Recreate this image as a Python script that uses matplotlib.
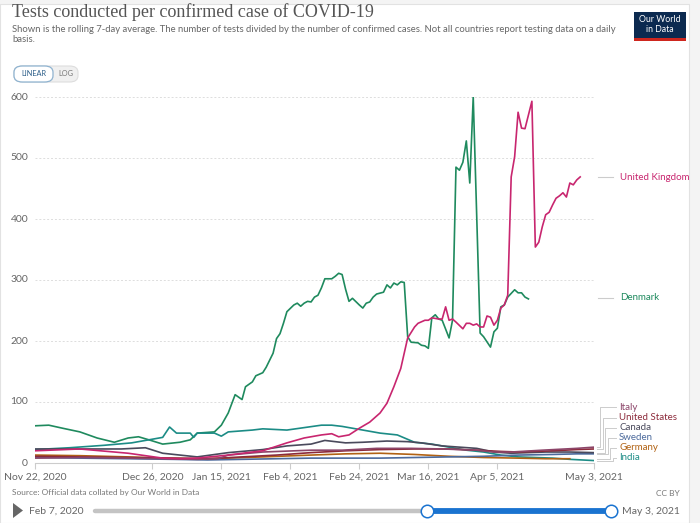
import numpy as np
import matplotlib
matplotlib.use('Agg')
import matplotlib.pyplot as plt
from matplotlib.patches import FancyBboxPatch, Rectangle, Polygon
from matplotlib.lines import Line2D

# ---------------- data ----------------
START = np.datetime64('2020-11-22')

tick_days = [0, 34, 54, 74, 94, 114, 134, 162]
tick_labels = ['Nov 22, 2020', 'Dec 26, 2020', 'Jan 15, 2021', 'Feb 4, 2021',
               'Feb 24, 2021', 'Mar 16, 2021', 'Apr 5, 2021', 'May 3, 2021']
y_ticks = [0, 100, 200, 300, 400, 500, 600]

denmark_days = [0, 4, 8, 13, 18, 23, 27, 30, 33, 37, 42, 45, 47, 52, 54, 56, 58, 60, 61,
                63, 64, 66, 67, 69, 70, 71, 72, 73, 75, 76, 77, 78, 79, 80, 81, 82, 83, 84,
                86, 87, 88, 89, 90, 91, 92, 94, 95, 96, 97, 98, 99, 101, 102, 103, 104, 105,
                106, 107, 108, 109, 111, 112, 113, 114, 115, 116, 117, 118, 120, 121, 122,
                123, 124, 125, 126, 127, 129, 130, 132, 133, 134, 135, 136, 137, 139, 140,
                141, 142, 143]
denmark_vals = [61, 62, 57, 51, 41, 34, 41, 43, 38, 31, 34, 38, 49, 51, 62, 82, 112, 104, 125,
                133, 143, 148, 157, 180, 204, 212, 229, 248, 259, 262, 257, 262, 265, 264, 272,
                275, 287, 302, 302, 306, 311, 309, 285, 265, 270, 259, 254, 262, 264, 272, 277,
                280, 292, 287, 295, 292, 297, 296, 207, 198, 197, 193, 192, 188, 238, 243, 236,
                234, 205, 234, 485, 480, 493, 528, 459, 600, 213, 207, 190, 215, 221, 256, 259,
                272, 284, 279, 279, 272, 269]

uk_days = [0, 13, 27, 37, 42, 47, 56, 63, 66, 73, 78, 83, 86, 88, 91, 94, 97, 100, 102, 104,
           105, 106, 107, 108, 110, 111, 113, 114, 115, 117, 118, 119, 120, 121, 122, 124, 125,
           126, 127, 128, 129, 130, 131, 132, 133, 134, 135, 136, 137, 138, 139, 140, 141, 142,
           144, 145, 146, 147, 148, 149, 150, 151, 152, 153, 154, 155, 156, 157, 158]
uk_vals = [20, 23, 16, 8, 7, 8, 13, 18, 20, 33, 41, 46, 48, 43, 46, 57, 67, 82, 98, 125,
           140, 155, 180, 205, 223, 229, 234, 234, 238, 236, 236, 256, 234, 236, 231, 220, 229,
           229, 226, 228, 223, 223, 241, 239, 226, 234, 254, 259, 275, 469, 502, 575, 549, 548,
           593, 354, 362, 387, 407, 411, 423, 434, 438, 443, 436, 459, 456, 464, 469]

italy_days = [0, 13, 27, 37, 47, 53, 56, 66, 80, 89, 99, 109, 118, 128, 133, 138, 147, 157, 162]
italy_vals = [8, 9, 8, 7, 6, 7, 13, 18, 21, 21, 24, 24, 23, 21, 18, 18, 21, 24, 26]

us_days = [0, 13, 27, 40, 50, 60, 70, 80, 90, 100, 110, 120, 128, 135, 140, 150, 157, 162]
us_vals = [11, 10, 9, 8, 7, 10, 13, 17, 20, 22, 23, 23, 21, 19, 18, 20, 22, 23]

canada_days = [0, 25, 32, 37, 47, 56, 66, 73, 80, 82, 84, 90, 95, 102, 108, 112, 118, 123,
               128, 133, 138, 143, 148, 155, 162]
canada_vals = [23, 23, 25, 16, 10, 17, 22, 28, 31, 34, 37, 33, 34, 36, 35, 33, 28, 26, 24,
               18, 16, 17, 18, 18, 17]

sweden_days = [0, 13, 27, 40, 50, 60, 70, 80, 90, 100, 110, 120, 130, 140, 150, 157, 162]
sweden_vals = [9, 8, 7, 6, 5, 6, 7, 8, 8, 8, 9, 10, 11, 13, 14, 15, 15]

germany_days = [0, 13, 27, 37, 47, 56, 66, 80, 90, 100, 110, 120, 130, 140, 148, 155]
germany_vals = [13, 12, 10, 8, 7, 8, 10, 13, 15, 16, 14, 11, 9, 8, 7, 7]

india_days = [0, 10, 20, 28, 33, 37, 39, 41, 45, 46, 47, 52, 54, 56, 63, 66, 73, 78, 83, 86,
              89, 95, 100, 105, 110, 115, 120, 125, 130, 135, 140, 150, 155, 162]
india_vals = [22, 25, 29, 33, 38, 42, 59, 49, 49, 42, 49, 49, 44, 51, 54, 56, 54, 58, 62, 62,
              60, 54, 49, 46, 34, 31, 26, 21, 18, 13, 10, 8, 6, 4]

series = [
    ('Denmark', denmark_days, denmark_vals, '#1f8a5e'),
    ('India', india_days, india_vals, '#1c8c86'),
    ('Germany', germany_days, germany_vals, '#b16214'),
    ('Sweden', sweden_days, sweden_vals, '#4c6a9c'),
    ('Canada', canada_days, canada_vals, '#4a4a5c'),
    ('United States', us_days, us_vals, '#8c2a3a'),
    ('Italy', italy_days, italy_vals, '#8c4569'),
    ('United Kingdom', uk_days, uk_vals, '#c8266f'),
]

# ---------------- figure ----------------
W, H = 700, 523
fig = plt.figure(figsize=(7, 5.23), dpi=100, facecolor='#f4f4f4')
FONT = 'Lato'


def fx(px):
    return px / W


def fy(py):
    return 1 - py / H


# white card
fig.add_artist(Rectangle((0, 0), fx(689), fy(4), transform=fig.transFigure,
                         facecolor='white', edgecolor='#e2e2e2', lw=0.8, zorder=0))

ax = fig.add_axes([fx(35), fy(463), fx(594) - fx(35), fy(97) - fy(463)])
ax.set_facecolor('none')

for name, d, v, c in series:
    dates = START + np.array(d, dtype='timedelta64[D]')
    ax.plot(dates, v, color=c, lw=1.2, solid_joinstyle='round', zorder=3)

ax.set_xlim(START, START + np.timedelta64(162, 'D'))
ax.set_ylim(0, 600)
ax.set_yticks(y_ticks)
ax.set_yticklabels([str(t) for t in y_ticks], fontsize=7.5, color='#666666', family=FONT)
ax.set_xticks(START + np.array(tick_days, dtype='timedelta64[D]'))
ax.set_xticklabels(tick_labels, fontsize=7.5, color='#666666', family=FONT)
ax.tick_params(axis='y', length=0, pad=5)
ax.tick_params(axis='x', length=4, color='#cccccc', pad=3)
for t in ax.get_yticklabels():
    t.set_verticalalignment('center')
for s in ['top', 'right', 'left']:
    ax.spines[s].set_visible(False)
ax.spines['bottom'].set_color('#cccccc')
ax.spines['bottom'].set_linewidth(0.8)
for t in y_ticks[1:]:
    ax.axhline(t, color='#dddddd', lw=0.7, ls=(0, (2, 2)), zorder=1, clip_on=False)

# ---------------- header ----------------
fig.text(fx(12), fy(12), 'Tests conducted per confirmed case of COVID-19', fontsize=13,
         family='Liberation Serif', color='#555555', va='center', ha='left')
fig.text(fx(12), fy(29), 'Shown is the rolling 7-day average. The number of tests divided by the '
         'number of confirmed cases. Not all countries report testing data on a daily',
         fontsize=6.8, family=FONT, color='#666666', va='center', ha='left')
fig.text(fx(12), fy(40), 'basis.', fontsize=6.8, family=FONT, color='#666666', va='center', ha='left')

# buttons
fig.add_artist(FancyBboxPatch((fx(14), fy(82)), fx(78) - fx(14), fy(66) - fy(82),
                              boxstyle='round,pad=0,rounding_size=0.012', transform=fig.transFigure,
                              facecolor='#f0f0f0', edgecolor='#dddddd', lw=0.8))
fig.add_artist(FancyBboxPatch((fx(14), fy(82)), fx(53) - fx(14), fy(66) - fy(82),
                              boxstyle='round,pad=0,rounding_size=0.012', transform=fig.transFigure,
                              facecolor='white', edgecolor='#8fb3d0', lw=0.9))
fig.text(fx(33.5), fy(74), 'LINEAR', fontsize=5.3, family=FONT, color='#2d5f8a', ha='center', va='center')
fig.text(fx(65.5), fy(74), 'LOG', fontsize=5.3, family=FONT, color='#777777', ha='center', va='center')

# logo
fig.add_artist(Rectangle((fx(634), fy(40)), fx(686) - fx(634), fy(12) - fy(40),
                         transform=fig.transFigure, facecolor='#0c2a50', edgecolor='none'))
fig.add_artist(Rectangle((fx(634), fy(41)), fx(686) - fx(634), fy(38) - fy(41),
                         transform=fig.transFigure, facecolor='#ce261e', edgecolor='none'))
fig.text(fx(660), fy(20), 'Our World', fontsize=6.3, family=FONT, color='white', ha='center', va='center')
fig.text(fx(660), fy(30), 'in Data', fontsize=6.3, family=FONT, color='white', ha='center', va='center')

# ---------------- right labels ----------------
fig.canvas.draw()
inv = fig.transFigure.inverted()
colors = {n: c for n, d, v, c in series}
ends = {n: (START + np.timedelta64(d[-1], 'D'), v[-1]) for n, d, v, c in series}


def data_px(name):
    dt, val = ends[name]
    xd = matplotlib.dates.date2num(dt)
    X, Y = ax.transData.transform((xd, val))
    return X, H - Y


for name, ly in [('United Kingdom', 177), ('Denmark', 298)]:
    ex, ey = data_px(name)
    fig.add_artist(Line2D([fx(598), fx(613)], [fy(ly), fy(ly)], transform=fig.transFigure,
                          color='#cccccc', lw=0.8))
    fig.text(fx(620), fy(ly), name, fontsize=7, family=FONT, color=colors[name],
             va='center', ha='left')

low = [('Italy', 407), ('United States', 418), ('Canada', 428), ('Sweden', 438),
       ('Germany', 448), ('India', 458)]
for i, (name, ly) in enumerate(low):
    ex, ey = data_px(name)
    xv = 600 + 2.6 * i
    fig.add_artist(Line2D([fx(597), fx(xv), fx(xv), fx(616)], [fy(ey), fy(ey), fy(ly), fy(ly)],
                          transform=fig.transFigure, color='#cccccc', lw=0.7))
    fig.text(fx(619), fy(ly), name, fontsize=7, family=FONT, color=colors[name],
             va='center', ha='left')

# ---------------- footer ----------------
fig.text(fx(12), fy(493), 'Source: Official data collated by Our World in Data', fontsize=6,
         family=FONT, color='#777777', va='center', ha='left')
fig.text(fx(680), fy(493), 'CC BY', fontsize=6, family=FONT, color='#777777', va='center', ha='right')

fig.add_artist(Polygon([[fx(13), fy(503)], [fx(13), fy(518)], [fx(23), fy(510.5)]], closed=True,
                       transform=fig.transFigure, facecolor='#666666', edgecolor='none'))
fig.text(fx(29), fy(511), 'Feb 7, 2020', fontsize=7.5, family=FONT, color='#666666', va='center', ha='left')
fig.text(fx(622), fy(511), 'May 3, 2021', fontsize=7.5, family=FONT, color='#666666', va='center', ha='left')
fig.add_artist(Line2D([fx(95), fx(427)], [fy(511), fy(511)], transform=fig.transFigure,
                      color='#c4c4c4', lw=3.2, solid_capstyle='round'))
fig.add_artist(Line2D([fx(427), fx(611)], [fy(511), fy(511)], transform=fig.transFigure,
                      color='#1a73d0', lw=4.2))
for px in (427, 611):
    fig.add_artist(Line2D([fx(px)], [fy(511)], transform=fig.transFigure, marker='o',
                          markersize=9, markerfacecolor='white', markeredgecolor='#1a73d0',
                          markeredgewidth=1.1, linestyle='none'))

fig.savefig('out.png', dpi=100, facecolor=fig.get_facecolor())
